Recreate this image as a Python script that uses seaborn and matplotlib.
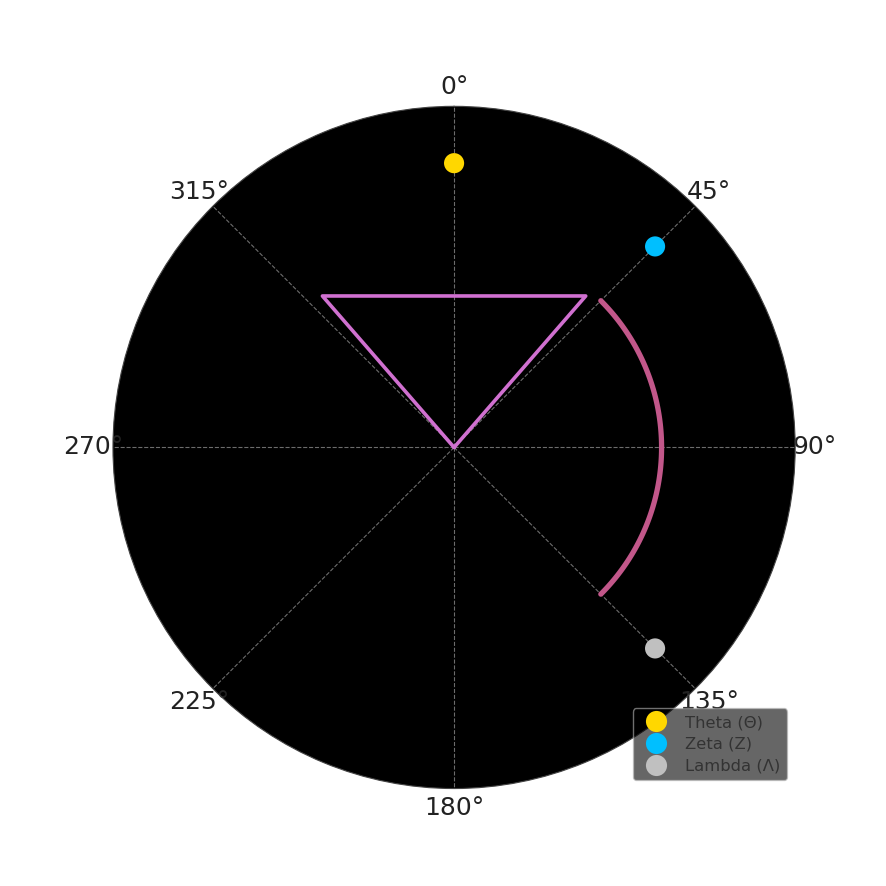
import numpy as np
import pandas as pd
import matplotlib
matplotlib.use("Agg")
import matplotlib.pyplot as plt
import seaborn as sns

# Data
labels = ["Theta (Θ)", "Zeta (Z)", "Lambda (Λ)"]
angles_deg = [0, 45, 135]
radii = [1.0, 1.0, 1.0]
colors = ["#FFD700", "#00BFFF", "#C0C0C0"]

tri_angles_deg = [0, 41, 319, 0]
tri_radii = [0.0, 0.706, 0.706, 0.0]

arc_start_deg = 45
arc_end_deg = 135
arc_radius = 0.73

r_max = 1.2

sns.set_style("white")
plt.rcParams["font.family"] = ["DejaVu Sans"]

fig = plt.figure(figsize=(8.86, 8.86), dpi=100)
ax = fig.add_subplot(111, projection="polar")
ax.set_theta_zero_location("N")
ax.set_theta_direction(-1)
ax.set_facecolor("black")

# triangle
tri = pd.DataFrame({"theta": np.deg2rad(tri_angles_deg), "r": tri_radii})
ax.plot(tri["theta"], tri["r"], color="#D070D0", linewidth=2.6)

# arc
arc_theta = np.linspace(np.deg2rad(arc_start_deg), np.deg2rad(arc_end_deg), 120)
arc = pd.DataFrame({"theta": arc_theta, "r": arc_radius})
sns.lineplot(data=arc, x="theta", y="r", sort=False, color="#C2578A",
             linewidth=3.8, ax=ax, estimator=None)

# points
pts = pd.DataFrame({"theta": np.deg2rad(angles_deg), "r": radii, "name": labels})
sns.scatterplot(data=pts, x="theta", y="r", hue="name", hue_order=labels,
                palette=colors, s=210, edgecolor="none", ax=ax, zorder=5)

ax.set_ylim(0, r_max)
ax.set_rticks([])
ax.set_xlabel("")
ax.set_ylabel("")
ax.set_thetagrids(range(0, 360, 45))
ax.tick_params(axis="x", labelsize=18, colors="#222222")
ax.xaxis.grid(True, color="#888888", linestyle="--", linewidth=0.8, alpha=0.8)
ax.spines["polar"].set_color("#444444")

# semi-transparent dark legend
leg = ax.legend(loc="lower right", fontsize=11.8, labelspacing=0.42,
                facecolor="black", edgecolor="#bbbbbb", framealpha=0.6,
                markerscale=1.05)
for t in leg.get_texts():
    t.set_color("#333333")

plt.savefig("out.png", dpi=100)
